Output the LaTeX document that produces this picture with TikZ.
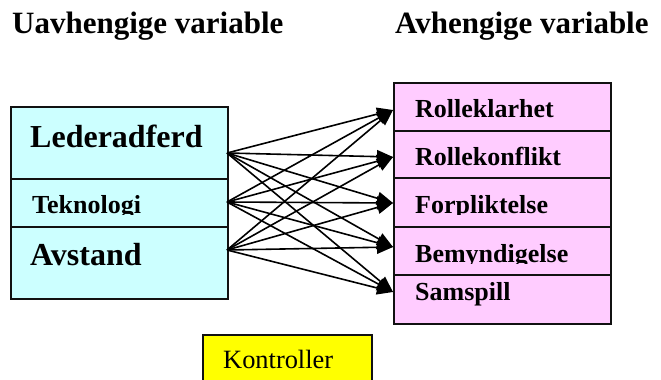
\documentclass[tikz,border=0pt]{standalone}
\usepackage{fontspec}
\setmainfont{Liberation Serif}
\usetikzlibrary{arrows.meta}
\definecolor{indepfill}{HTML}{CCFFFF}
\definecolor{depfill}{HTML}{FFCCFF}
\definecolor{ctrlfill}{HTML}{FFFF00}
\definecolor{edge}{HTML}{111111}
\begin{document}
\begin{tikzpicture}[x=1pt,y=-1pt,
  cell/.style={draw=edge, line width=1.5pt, inner sep=0pt, anchor=north west, minimum width=217pt},
  head/.style={anchor=base west, inner sep=0pt, font=\bfseries\fontsize{31}{36}\selectfont},
  biglbl/.style={anchor=base west, inner sep=0pt, font=\bfseries\fontsize{32}{38}\selectfont},
  lbl/.style={anchor=base west, inner sep=0pt, font=\bfseries\fontsize{26}{30}\selectfont},
  plainlbl/.style={anchor=base west, inner sep=0pt, font=\fontsize{26.4}{30}\selectfont},
  link/.style={line width=1.6pt, draw=black, -{Triangle[length=16pt,width=13pt]}}]
\clip (0,0) rectangle (661,380);

% column headings
\node[head] (hleft) at (12,33) {Uavhengige variable};
\node[head] (hright) at (395,33) {Avhengige variable};

% independent variables
\node[cell, fill=indepfill, minimum height=72pt] (led) at (10,106) {};
\node[cell, fill=indepfill, minimum height=48pt] (tek) at (10,178) {};
\node[cell, fill=indepfill, minimum height=72pt] (avs) at (10,226) {};
\node[biglbl] (ledtxt) at (30,147) {Lederadferd};
\begin{scope}
  \clip (10,178) rectangle (227,214);
  \node[lbl] (tektxt) at (32,213) {Teknologi};
\end{scope}
\node[biglbl] (avstxt) at (30,265) {Avstand};

% dependent variables
\node[cell, fill=depfill, minimum height=48pt] (rk) at (393,82) {};
\node[cell, fill=depfill, minimum height=47pt] (rf) at (393,130) {};
\node[cell, fill=depfill, minimum height=49pt] (fo) at (393,177) {};
\node[cell, fill=depfill, minimum height=48pt] (be) at (393,226) {};
\node[cell, fill=depfill, minimum height=49pt] (sa) at (393,274) {};
\node[lbl] (rktxt) at (415,117) {Rolleklarhet};
\node[lbl] (rftxt) at (415,165) {Rollekonflikt};
\begin{scope}
  \clip (393,177) rectangle (610,214);
  \node[lbl] (fotxt) at (415,213) {Forpliktelse};
\end{scope}
\begin{scope}
  \clip (393,226) rectangle (610,263);
  \node[lbl] (betxt) at (415,262) {Bemyndigelse};
\end{scope}
\node[lbl] (satxt) at (415,300) {Samspill};

% control variable
\node[cell, fill=ctrlfill, minimum width=169pt, minimum height=60pt] (ktr) at (202,334) {};
\node[plainlbl] (ktrtxt) at (223,368) {Kontroller};

% connector end points
\coordinate (s1) at (227,153);
\coordinate (s2) at (227,202);
\coordinate (s3) at (227,250);
\coordinate (t1) at (393,110);
\coordinate (t2) at (393,157);
\coordinate (t3) at (393,203);
\coordinate (t4) at (393,247);
\coordinate (t5) at (393,292);

% every independent variable points at every dependent one
\foreach \s in {s1,s2,s3}
  \foreach \t in {t1,t2,t3,t4,t5}
    \draw[link] (\s) -- (\t);
\end{tikzpicture}
\end{document}
